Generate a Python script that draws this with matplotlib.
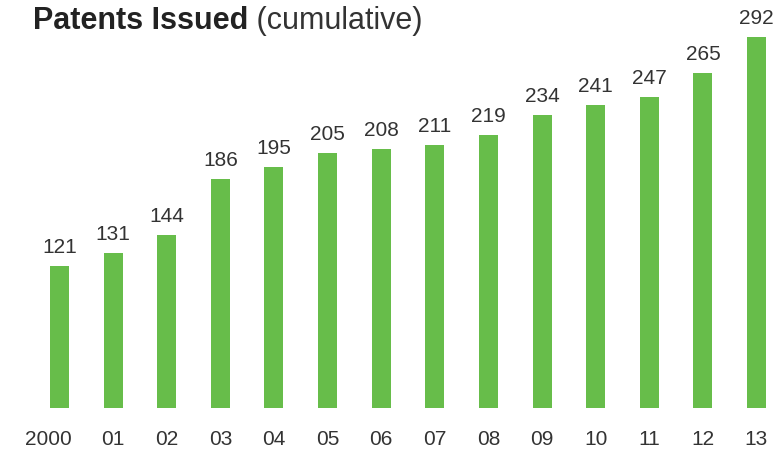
import matplotlib
matplotlib.use("Agg")
import matplotlib.pyplot as plt
import matplotlib.transforms as mtransforms
import numpy as np

# data
years = ["2000", "01", "02", "03", "04", "05", "06", "07", "08", "09", "10", "11", "12", "13"]
patents = [121, 131, 144, 186, 195, 205, 208, 211, 219, 234, 241, 247, 265, 292]

green = "#67bd4a"
txt = "#333333"
plt.rcParams['font.family'] = ['Liberation Sans', 'DejaVu Sans']

W, H = 779, 453
fig = plt.figure(figsize=(W / 100, H / 100), dpi=100)
# axes spans full width, from baseline (y=408 px) to top of figure
ax = fig.add_axes([0, (H - 408) / H, 1, 408 / H])

x = np.arange(len(years))
ax.bar(x, patents, width=0.355, color=green, zorder=2)

# pixel mapping: centres at 59.5 .. 756.5 px
step = (756.5 - 59.5) / 13
ax.set_xlim(-59.5 / step, (W - 59.5) / step)
ax.set_ylim(15, 15 + 408 / 1.34)

for xi, v in zip(x, patents):
    ax.annotate(str(v), (xi, v), xytext=(0, 6.5), textcoords="offset points",
                ha="center", va="bottom", fontsize=15, color=txt)

ax.set_xticks(x)
ax.set_xticklabels(years, fontsize=15, color=txt)
ax.tick_params(axis="x", length=0, pad=16)
ax.set_yticks([])
for s in ax.spines.values():
    s.set_visible(False)

# nudge the "2000" label a bit left like the original
lbl = ax.get_xticklabels()[0]
lbl.set_transform(lbl.get_transform() + mtransforms.ScaledTranslation(-11 / 100, 0, fig.dpi_scale_trans))

t1 = fig.text(33 / W, (H - 29) / H, "Patents Issued", fontsize=22, fontweight="bold",
              color="#222222", ha="left", va="baseline")
ax.annotate(" (cumulative)", xy=(1, 0), xycoords=t1, fontsize=22, color=txt,
            ha="left", va="bottom", annotation_clip=False)

fig.savefig("out.png", dpi=100)
